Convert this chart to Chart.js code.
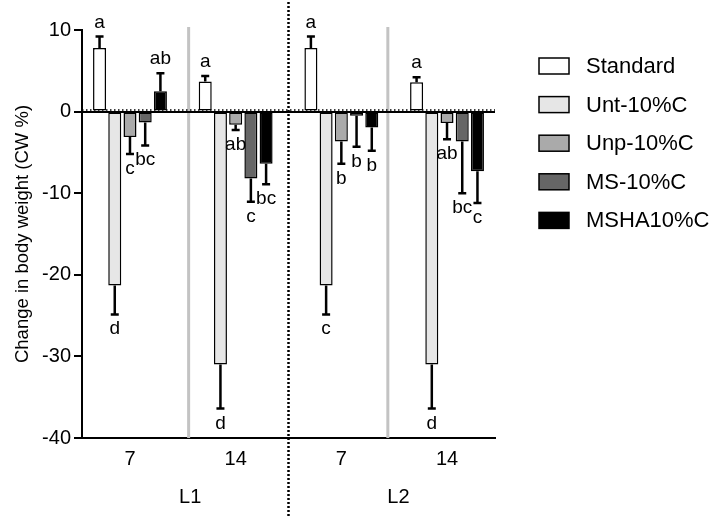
<!DOCTYPE html>
<html>
<head>
<meta charset="utf-8">
<title>Change in body weight</title>
<script src="https://cdn.jsdelivr.net/npm/chart.js@4"></script>
<style>
  body { margin: 0; background: #fff; }
  canvas { display: block; }
</style>
</head>
<body>
<canvas id="chart" width="712" height="517"></canvas>
<script>
// groups along the x axis (days) and the two lines they belong to
const days = ['7', '14', '7', '14'];
const lines = ['L1', 'L2'];
const yTicks = [10, 0, -10, -20, -30, -40];

const seriesNames = ['Standard', 'Unt-10%C', 'Unp-10%C', 'MS-10%C', 'MSHA10%C'];

// mean change in body weight (CW %) per group
const standard = [7.8, 3.7, 7.8, 3.6];
const unt      = [-21.3, -31.0, -21.3, -31.0];
const unp      = [-3.1, -1.6, -3.65, -1.4];
const ms       = [-1.35, -8.2, -0.5, -3.65];
const msha     = [2.5, -6.4, -1.95, -7.3];

// error bar lengths (drawn away from zero)
const standardErr = [1.4, 0.65, 1.4, 0.6];
const untErr      = [3.55, 5.4, 3.55, 5.4];
const unpErr      = [2.1, 0.65, 2.75, 2.0];
const msErr       = [2.8, 2.85, 3.8, 6.35];
const mshaErr     = [2.2, 2.5, 2.85, 3.9];

// significance letters
const standardSig = ['a', 'a', 'a', 'a'];
const untSig      = ['d', 'd', 'c', 'd'];
const unpSig      = ['c', 'ab', 'b', 'ab'];
const msSig       = ['bc', 'c', 'b', 'bc'];
const mshaSig     = ['ab', 'bc', 'b', 'c'];

const values  = [standard, unt, unp, ms, msha];
const errors  = [standardErr, untErr, unpErr, msErr, mshaErr];
const letters = [standardSig, untSig, unpSig, msSig, mshaSig];

const FONT = "'Liberation Sans', Arial, Helvetica, sans-serif";
const fills = ['#ffffff', '#e6e6e6', '#aaaaaa', '#666666', '#000000'];

Chart.defaults.font.family = FONT;
Chart.defaults.color = '#000';

const extras = {
  id: 'extras',
  beforeDatasetsDraw(chart, args, opts) {
    const { ctx, scales: { x, y } } = chart;
    ctx.save();
    ctx.strokeStyle = '#c3c3c3';
    ctx.lineWidth = 3;
    for (const v of opts.separators) {
      const px = x.getPixelForValue(v);
      ctx.beginPath();
      ctx.moveTo(px, y.top - 3);
      ctx.lineTo(px, y.bottom);
      ctx.stroke();
    }
    ctx.restore();
  },
  afterDatasetsDraw(chart) {
    const { ctx, chartArea, scales: { y } } = chart;
    const y0 = y.getPixelForValue(0);
    ctx.save();
    // baseline at zero, solid with a dotted rule on top
    ctx.strokeStyle = '#000';
    ctx.lineWidth = 2;
    ctx.beginPath();
    ctx.moveTo(chartArea.left, y0 + 0.5);
    ctx.lineTo(chartArea.right, y0 + 0.5);
    ctx.stroke();
    ctx.setLineDash([1.5, 2.5]);
    ctx.lineWidth = 1.5;
    ctx.beginPath();
    ctx.moveTo(chartArea.left, y0 - 1.5);
    ctx.lineTo(chartArea.right, y0 - 1.5);
    ctx.stroke();
    ctx.setLineDash([]);

    // error bars and letters
    ctx.lineWidth = 2.5;
    ctx.font = '19px ' + FONT;
    ctx.textAlign = 'center';
    ctx.textBaseline = 'alphabetic';
    ctx.fillStyle = '#000';
    values.forEach((series, i) => {
      const meta = chart.getDatasetMeta(i);
      series.forEach((v, j) => {
        const bar = meta.data[j];
        const end = v >= 0 ? v + errors[i][j] : v - errors[i][j];
        const yv = y.getPixelForValue(v);
        const ye = y.getPixelForValue(end);
        ctx.beginPath();
        ctx.moveTo(bar.x, yv);
        ctx.lineTo(bar.x, ye);
        ctx.moveTo(bar.x - 4, ye);
        ctx.lineTo(bar.x + 4, ye);
        ctx.stroke();
        const ty = v >= 0 ? ye - 9 : ye + 20;
        ctx.fillText(letters[i][j], bar.x, ty);
      });
    });
    ctx.restore();
  },
  afterDraw(chart, args, opts) {
    const { ctx, scales: { x } } = chart;
    ctx.save();
    // dotted divider between L1 and L2
    const dx = x.getPixelForValue(opts.divider);
    ctx.strokeStyle = '#000';
    ctx.lineWidth = 2.5;
    ctx.setLineDash([2, 2]);
    ctx.beginPath();
    ctx.moveTo(dx, 2);
    ctx.lineTo(dx, chart.height);
    ctx.stroke();
    ctx.setLineDash([]);

    // line labels under the day ticks
    ctx.font = '20px ' + FONT;
    ctx.fillStyle = '#000';
    ctx.textAlign = 'center';
    ctx.textBaseline = 'middle';
    lines.forEach((name, i) => {
      ctx.fillText(name, x.getPixelForValue(opts.linePos[i]), 497);
    });

    // legend
    ctx.font = '22px ' + FONT;
    ctx.textAlign = 'left';
    ctx.lineWidth = 1.5;
    chart.data.datasets.forEach((ds, i) => {
      const cy = 66 + i * 38.6;
      ctx.fillStyle = ds.backgroundColor;
      ctx.fillRect(539, cy - 8, 30, 16);
      ctx.strokeStyle = '#000';
      ctx.strokeRect(539, cy - 8, 30, 16);
      ctx.fillStyle = '#000';
      ctx.fillText(ds.label, 586, cy + 1);
    });
    ctx.restore();
  }
};

const datasets = values.map((series, i) => ({
  label: seriesNames[i],
  data: series.map((v, j) => ({ x: j, y: v })),
  backgroundColor: fills[i],
  borderColor: '#000',
  borderWidth: 1.5,
  borderSkipped: false,
  categoryPercentage: 0.72,
  barPercentage: 0.855
}));

new Chart(document.getElementById('chart'), {
  type: 'bar',
  data: { datasets },
  plugins: [extras],
  options: {
    responsive: false,
    animation: false,
    layout: { padding: { left: 0, right: 217, top: 30, bottom: 0 } },
    plugins: {
      legend: { display: false },
      tooltip: { enabled: false },
      extras: { separators: [0.555, 2.44], divider: 1.5, linePos: [0.57, 2.54] }
    },
    scales: {
      x: {
        type: 'linear',
        offset: false,
        min: -0.454,
        max: 3.454,
        afterFit(scale) { scale.height = 79; },
        grid: { display: false, drawTicks: false },
        border: { display: true, color: '#000', width: 2 },
        ticks: {
          stepSize: 1,
          includeBounds: false,
          autoSkip: false,
          maxRotation: 0,
          padding: 9,
          font: { size: 20 },
          color: '#000',
          callback: (v) => days[v] ?? ''
        }
      },
      y: {
        min: -40,
        max: 10,
        afterFit(scale) { scale.width = 82; },
        afterBuildTicks(scale) { scale.ticks = yTicks.map(v => ({ value: v })); },
        grid: { drawOnChartArea: false, drawTicks: true, tickLength: 8, color: '#000', lineWidth: 2 },
        border: { display: true, color: '#000', width: 2 },
        ticks: { padding: 3, font: { size: 20 }, color: '#000' },
        title: {
          display: true,
          text: 'Change in body weight (CW %)',
          font: { size: 18.5 },
          color: '#000',
          padding: { top: 12, bottom: 0 }
        }
      }
    }
  }
});
</script>
</body>
</html>
